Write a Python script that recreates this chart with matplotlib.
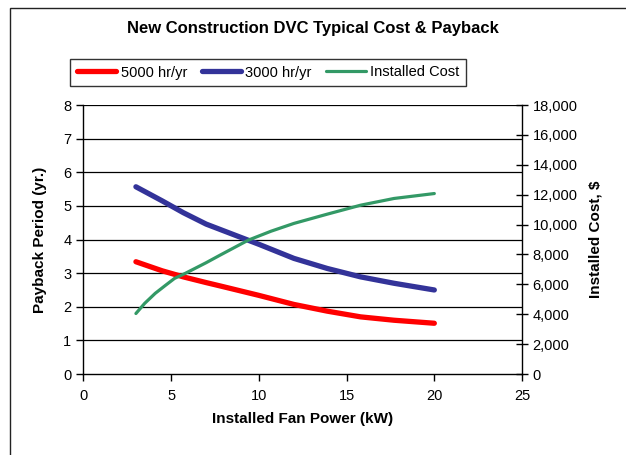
import matplotlib.pyplot as plt
from matplotlib.patches import Rectangle
from matplotlib.ticker import FuncFormatter

plt.rcParams["font.family"] = ["Liberation Sans", "DejaVu Sans"]

# fan power (kW)
power = [3, 4.5, 5.7, 7.0, 7.8, 10, 12, 13.9, 15.8, 17.7, 20]
# payback period (yr) for two operating schedules
payback_5000 = [3.34, 3.07, 2.89, 2.72, 2.62, 2.34, 2.07, 1.87, 1.70, 1.60, 1.51]
payback_3000 = [5.57, 5.15, 4.80, 4.46, 4.30, 3.86, 3.44, 3.14, 2.89, 2.70, 2.50]
# installed cost ($)
cost_power = [3, 3.5, 4.1, 4.7, 5.2, 5.8, 7.0, 7.8, 9.4, 10.7, 12, 13.9, 15.8, 17.7, 20]
installed_cost = [4050, 4730, 5400, 5950, 6400, 6730, 7450, 7960, 8960, 9560,
                  10080, 10700, 11300, 11750, 12080]

fig = plt.figure(figsize=(6.26, 4.55), dpi=100)
ax = fig.add_axes([0.133, 0.178, 0.701, 0.591])
ax2 = ax.twinx()

# outer chart frame
fig.patches.append(Rectangle((10 / 626, -0.1), 1.0, 1.0 + 0.1 - 8 / 455,
                             transform=fig.transFigure, fill=False,
                             edgecolor="#222222", linewidth=1.0))

l1, = ax.plot(power, payback_5000, color="#ff0000", lw=3.8,
              solid_capstyle="round", solid_joinstyle="round",
              label="5000 hr/yr", zorder=3)
l2, = ax.plot(power, payback_3000, color="#333399", lw=3.8,
              solid_capstyle="round", solid_joinstyle="round",
              label="3000 hr/yr", zorder=3)
l3, = ax2.plot(cost_power, installed_cost, color="#339966", lw=2.3,
               solid_capstyle="round", solid_joinstyle="round",
               label="Installed Cost", zorder=3)

ax.set_xlim(0, 25)
ax.set_ylim(0, 8)
ax2.set_ylim(0, 18000)
ax.set_xticks(range(0, 26, 5))
ax.set_yticks(range(0, 9))
ax2.set_yticks(range(0, 18001, 2000))
ax2.yaxis.set_major_formatter(FuncFormatter(lambda v, p: "{:,.0f}".format(v)))

for y in range(1, 9):
    ax.axhline(y, color="#000000", lw=0.9, zorder=1)

for s in ["top", "right"]:
    ax.spines[s].set_visible(False)
for s in ["top", "left", "bottom"]:
    ax2.spines[s].set_visible(False)
for a in (ax, ax2):
    for s in a.spines.values():
        s.set_linewidth(1.0)
        s.set_color("black")

ax.tick_params(axis="both", labelsize=10.5, length=5, width=1, color="black")
ax.tick_params(axis="x", pad=6)
ax2.tick_params(axis="y", labelsize=10.5, direction="inout", length=8, width=1)

ax.set_xlabel("Installed Fan Power (kW)", fontsize=11, fontweight="bold", labelpad=6)
ax.set_ylabel("Payback Period (yr.)", fontsize=11, fontweight="bold", labelpad=12)
ax2.set_ylabel("Installed Cost, $", fontsize=11, fontweight="bold", labelpad=8)

fig.text(313 / 626, 1 - 29 / 455, "New Construction DVC Typical Cost & Payback",
         ha="center", va="center", fontsize=12, fontweight="bold")

leg = fig.legend(handles=[l1, l2, l3], loc="center",
                 bbox_to_anchor=(268 / 626, 1 - 72.5 / 455), ncol=3,
                 fontsize=10.5, frameon=True, fancybox=False, edgecolor="black",
                 handlelength=2.7, handletextpad=0.3, columnspacing=1.0,
                 borderpad=0.45)
leg.get_frame().set_linewidth(1.0)

fig.savefig("out.png", dpi=100)
